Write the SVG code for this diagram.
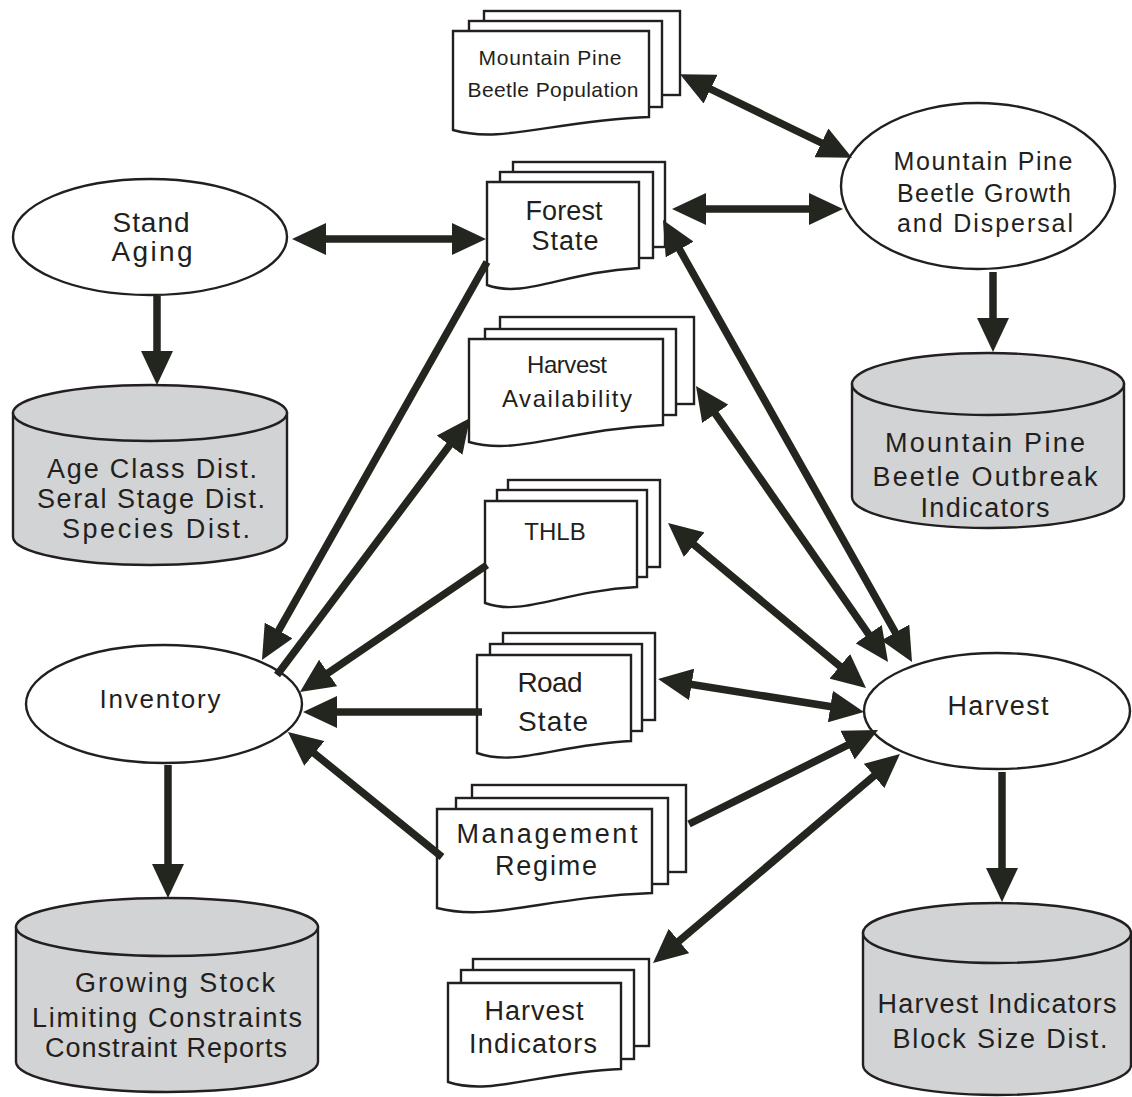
<svg xmlns="http://www.w3.org/2000/svg" width="1132" height="1097" viewBox="0 0 1132 1097">
<style>
.pg{fill:#fff;stroke:#231f20;stroke-width:2.4}
.el{fill:#fff;stroke:#231f20;stroke-width:2.4}
.cy{fill:#d1d3d4;stroke:#231f20;stroke-width:2.4}
.t{font-family:"Liberation Sans",Arial,sans-serif;fill:#231f20;text-anchor:middle}
.c{stroke:#23251f;stroke-width:7.5;fill:none}
</style>
<defs>
<marker id="ah" viewBox="0 0 34 32" refX="14" refY="16" markerWidth="34" markerHeight="32" markerUnits="userSpaceOnUse" orient="auto-start-reverse">
<path d="M0,0 L34,16 L0,32 Z" fill="#23251f"/>
</marker>
</defs>
<rect width="1132" height="1097" fill="#fff"/>

<g id="stand-aging">
<ellipse class="el" cx="150" cy="237" rx="137" ry="58"/>
<text class="t" x="151" y="232" font-size="28" textLength="77">Stand</text>
<text class="t" x="152" y="261" font-size="28" textLength="81">Aging</text>
</g>

<g id="age-class-cyl">
<path class="cy" d="M13,413 L13,537 A137,28 0 0 0 287,537 L287,413 Z"/>
<ellipse class="cy" cx="150" cy="413" rx="137" ry="28"/>
<text class="t" x="152" y="478" font-size="27" textLength="210">Age Class Dist.</text>
<text class="t" x="151" y="508" font-size="27" textLength="228">Seral Stage Dist.</text>
<text class="t" x="156" y="538" font-size="27" textLength="188">Species Dist.</text>
</g>

<g id="mpb-population">
<rect class="pg" x="484" y="11" width="196" height="84"/>
<rect class="pg" x="469" y="21" width="193" height="86"/>
<path class="pg" d="M453,31 H649 V117 C551,121 502,144 453,130 Z"/>
<text class="t" x="550" y="65" font-size="21" textLength="143">Mountain Pine</text>
<text class="t" x="553" y="97" font-size="21" textLength="171">Beetle Population</text>
</g>

<g id="forest-state">
<rect class="pg" x="513" y="162" width="152" height="85"/>
<rect class="pg" x="500" y="172" width="153" height="86"/>
<path class="pg" d="M487,182 H639 V268 C563,272 525,299 487,285 Z"/>
<text class="t" x="564" y="220" font-size="27" textLength="77">Forest</text>
<text class="t" x="565" y="250" font-size="27" textLength="67">State</text>
</g>

<g id="mpb-growth">
<ellipse class="el" cx="978" cy="186" rx="137" ry="83"/>
<text class="t" x="983" y="170" font-size="25" textLength="179">Mountain Pine</text>
<text class="t" x="984" y="202" font-size="25" textLength="174">Beetle Growth</text>
<text class="t" x="985" y="232" font-size="25" textLength="176">and Dispersal</text>
</g>

<g id="mpb-outbreak-cyl">
<path class="cy" d="M852,384 L852,497 A136,31 0 0 0 1124,497 L1124,384 Z"/>
<ellipse class="cy" cx="988" cy="384" rx="136" ry="31"/>
<text class="t" x="985" y="452" font-size="27" textLength="200">Mountain Pine</text>
<text class="t" x="985" y="486" font-size="27" textLength="225">Beetle Outbreak</text>
<text class="t" x="985" y="517" font-size="27" textLength="129">Indicators</text>
</g>

<g id="harvest-availability">
<rect class="pg" x="500" y="317" width="194" height="87"/>
<rect class="pg" x="485" y="329" width="191" height="86"/>
<path class="pg" d="M469,339 H663 V425 C566,429 518,456 469,442 Z"/>
<text class="t" x="567" y="373" font-size="24" textLength="80">Harvest</text>
<text class="t" x="567" y="407" font-size="24" textLength="130">Availability</text>
</g>

<g id="thlb">
<rect class="pg" x="508" y="480" width="152" height="87"/>
<rect class="pg" x="497" y="490" width="150" height="87"/>
<path class="pg" d="M485,501 H637 V587 C561,591 523,617 485,603 Z"/>
<text class="t" x="555" y="540" font-size="24">THLB</text>
</g>

<g id="road-state">
<rect class="pg" x="503" y="633" width="152" height="87"/>
<rect class="pg" x="490" y="644" width="152" height="87"/>
<path class="pg" d="M477,655 H631 V741 C554,745 516,767 477,753 Z"/>
<text class="t" x="550" y="692" font-size="28" textLength="65">Road</text>
<text class="t" x="553" y="731" font-size="28" textLength="70">State</text>
</g>

<g id="management-regime">
<rect class="pg" x="472" y="785" width="214" height="87"/>
<rect class="pg" x="456" y="798" width="212" height="86"/>
<path class="pg" d="M437,809 H652 V893 C544,897 491,922 437,908 Z"/>
<text class="t" x="547" y="843" font-size="27" textLength="181">Management</text>
<text class="t" x="546" y="875" font-size="27" textLength="102">Regime</text>
</g>

<g id="harvest-indicators-doc">
<rect class="pg" x="473" y="959" width="176" height="87"/>
<rect class="pg" x="461" y="970" width="173" height="89"/>
<path class="pg" d="M448,983 H621 V1069 C534,1073 491,1096 448,1082 Z"/>
<text class="t" x="534" y="1020" font-size="27" textLength="99">Harvest</text>
<text class="t" x="533" y="1053" font-size="27" textLength="128">Indicators</text>
</g>

<g id="inventory">
<ellipse class="el" cx="164" cy="704" rx="138" ry="59"/>
<text class="t" x="160" y="708" font-size="26" textLength="121">Inventory</text>
</g>

<g id="growing-stock-cyl">
<path class="cy" d="M16,927 L16,1062 A151,30 0 0 0 318,1062 L318,927 Z"/>
<ellipse class="cy" cx="167" cy="927" rx="151" ry="29"/>
<text class="t" x="175" y="992" font-size="27" textLength="200">Growing Stock</text>
<text class="t" x="167" y="1027" font-size="27" textLength="270">Limiting Constraints</text>
<text class="t" x="166" y="1057" font-size="27" textLength="242">Constraint Reports</text>
</g>

<g id="harvest">
<ellipse class="el" cx="997" cy="711" rx="133" ry="58"/>
<text class="t" x="998" y="715" font-size="27" textLength="101">Harvest</text>
</g>

<g id="harvest-indicators-cyl">
<path class="cy" d="M863,933 L863,1065 A134,30 0 0 0 1131,1065 L1131,933 Z"/>
<ellipse class="cy" cx="997" cy="933" rx="134" ry="30"/>
<text class="t" x="997" y="1013" font-size="27" textLength="239">Harvest Indicators</text>
<text class="t" x="1000" y="1048" font-size="27" textLength="215">Block Size Dist.</text>
</g>

<g id="connectors">
<line class="c" x1="312" y1="239" x2="466" y2="239" marker-start="url(#ah)" marker-end="url(#ah)"/>
<line class="c" x1="157" y1="296" x2="157" y2="365" marker-end="url(#ah)"/>
<line class="c" x1="698" y1="83" x2="834" y2="149" marker-start="url(#ah)" marker-end="url(#ah)"/>
<line class="c" x1="692" y1="209" x2="823" y2="209" marker-start="url(#ah)" marker-end="url(#ah)"/>
<line class="c" x1="993" y1="272" x2="993" y2="332" marker-end="url(#ah)"/>
<line class="c" x1="672.8" y1="237.4" x2="902.2" y2="644.6" marker-start="url(#ah)" marker-end="url(#ah)"/>
<line class="c" x1="707.4" y1="402.4" x2="876.6" y2="645.6" marker-start="url(#ah)" marker-end="url(#ah)"/>
<line class="c" x1="683.4" y1="535.8" x2="850.6" y2="675.2" marker-start="url(#ah)" marker-end="url(#ah)"/>
<line class="c" x1="677.8" y1="682.2" x2="844.2" y2="708.8" marker-start="url(#ah)" marker-end="url(#ah)"/>
<line class="c" x1="689" y1="824" x2="860.1" y2="738.9" marker-end="url(#ah)"/>
<line class="c" x1="668.3" y1="950.1" x2="884.7" y2="766.9" marker-start="url(#ah)" marker-end="url(#ah)"/>
<line class="c" x1="487" y1="262" x2="271.8" y2="642.6" marker-end="url(#ah)"/>
<line class="c" x1="277" y1="675" x2="458" y2="434" marker-end="url(#ah)"/>
<line class="c" x1="487" y1="565" x2="316.5" y2="680.8" marker-end="url(#ah)"/>
<line class="c" x1="482" y1="712" x2="323" y2="712" marker-end="url(#ah)"/>
<line class="c" x1="442" y1="857" x2="303.5" y2="744.6" marker-end="url(#ah)"/>
<line class="c" x1="168" y1="765" x2="168" y2="878" marker-end="url(#ah)"/>
<line class="c" x1="1002" y1="772" x2="1002" y2="882" marker-end="url(#ah)"/>
</g>
</svg>
